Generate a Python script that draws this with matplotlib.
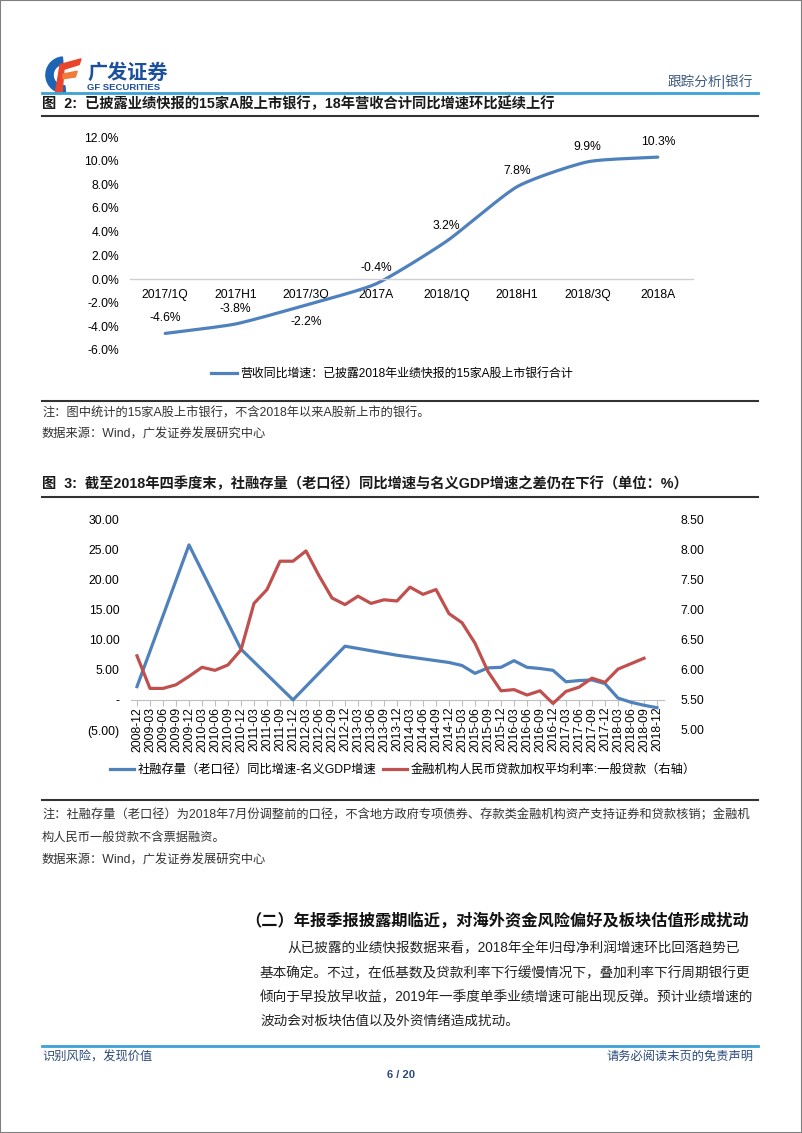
import numpy as np
import pandas as pd
import matplotlib
matplotlib.use('Agg')
import matplotlib.pyplot as plt
from matplotlib.lines import Line2D
from matplotlib.patches import Rectangle, Wedge, Polygon
from matplotlib.ticker import FuncFormatter

# ---------------- data ----------------
c1_categories = ['2017/1Q', '2017H1', '2017/3Q', '2017A', '2018/1Q', '2018H1', '2018/3Q', '2018A']
c1_values = [-4.6, -3.8, -2.2, -0.4, 3.2, 7.8, 9.9, 10.3]
c1_series_name = '营收同比增速：已披露2018年业绩快报的15家A股上市银行合计'

c2_dates = [f"{p.year}-{p.quarter * 3:02d}" for p in pd.period_range('2008Q4', '2018Q4', freq='Q')]
c2_blue_dates = ['2008-12', '2009-12', '2010-12', '2011-12', '2012-12', '2013-12', '2014-12',
                 '2015-03', '2015-06', '2015-09', '2015-12', '2016-03', '2016-06', '2016-09', '2016-12',
                 '2017-03', '2017-06', '2017-09', '2017-12', '2018-03', '2018-06', '2018-09', '2018-12']
c2_blue_values = [2.2, 25.7, 8.4, 0.0, 8.9, 7.4, 6.2,
                  5.7, 4.4, 5.3, 5.4, 6.5, 5.4, 5.2, 4.9,
                  3.0, 3.2, 3.3, 2.7, 0.3, -0.4, -0.9, -1.3]
c2_red_values = [6.23, 5.69, 5.69, 5.75, 5.89, 6.04, 5.99, 6.08, 6.33,
                 7.10, 7.33, 7.80, 7.80, 7.97, 7.56, 7.19, 7.08,
                 7.22, 7.10, 7.16, 7.14, 7.37, 7.25, 7.33, 6.93,
                 6.78, 6.44, 5.97, 5.65, 5.67, 5.58, 5.65, 5.44,
                 5.64, 5.71, 5.86, 5.79, 6.01, 6.10, 6.19]
c2_blue_name = '社融存量（老口径）同比增速-名义GDP增速'
c2_red_name = '金融机构人民币贷款加权平均利率:一般贷款（右轴）'

# ---------------- figure ----------------
W, H = 802, 1133
plt.rcParams['font.family'] = ['Liberation Sans', 'Noto Sans CJK SC']
CHART_FONT = ['Liberation Sans Narrow', 'Liberation Sans', 'Noto Sans CJK SC']
fig = plt.figure(figsize=(W / 100, H / 100), dpi=100)


def rect(x0, y0, x1, y1):
    return [x0 / W, 1 - y1 / H, (x1 - x0) / W, (y1 - y0) / H]


def fx(x):
    return x / W


def fy(y):
    return 1 - y / H


def hline(y, x0=42, x1=758, color='#333333', lw=1.2):
    fig.add_artist(Line2D([fx(x0), fx(x1)], [fy(y), fy(y)], color=color, lw=lw))


def ftext(x, y, s, **kw):
    fig.text(fx(x), fy(y), s, **kw)


# page border
fig.add_artist(Rectangle((0, 0), 1, 1, transform=fig.transFigure, fill=False,
                         edgecolor='#7F7F7F', lw=1.5))

# ---------------- header ----------------
logo = fig.add_axes(rect(44, 56, 82, 94))
logo.set_xlim(-1, 1); logo.set_ylim(-1, 1); logo.axis('off')
logo.add_patch(Wedge((0.05, 0.0), 0.95, 95, 275, width=0.38, color='#1E64B4'))
logo.add_patch(Polygon([[-0.15, 0.55], [0.95, 0.85], [0.85, 0.55], [0.05, 0.3], [-0.05, -0.95],
                        [-0.4, -0.95]], closed=True, color='#E8452C'))
logo.add_patch(Polygon([[0.0, 0.05], [0.75, 0.2], [0.65, -0.1], [0.0, -0.2]], closed=True, color='#F07A3A'))
ftext(87, 72, '广发证券', fontsize=14.5, fontweight='bold', color='#1C4F9C', va='center',
      family=['Noto Sans CJK SC'])
ftext(87, 88, 'GF SECURITIES', fontsize=6.8, fontweight='bold', color='#1C4F9C', va='center')
ftext(753, 82, '跟踪分析|银行', fontsize=9.8, color='#3D5A80', ha='right', va='center')
hline(93, color='#3AA2D6', lw=2.0)

# ---------------- chart 1 ----------------
ftext(42, 104, '图  2:  已披露业绩快报的15家A股上市银行，18年营收合计同比增速环比延续上行',
      fontsize=10.3, fontweight='bold', color='#1A1A1A', va='center')
hline(116, lw=1.5)

ax1 = fig.add_axes(rect(130, 137, 693, 350))
ax1.set_xlim(-0.5, len(c1_categories) - 0.5)
ax1.set_ylim(-6, 12)
for s in ['top', 'right', 'left']:
    ax1.spines[s].set_visible(False)
ax1.spines['bottom'].set_position(('data', 0))
ax1.spines['bottom'].set_color('#D0D0D0')
ax1.spines['bottom'].set_linewidth(1.0)
ax1.set_yticks(np.arange(-6, 13, 2))
ax1.yaxis.set_major_formatter(FuncFormatter(lambda v, p: f'{v:.1f}%'))
ax1.set_xticks(range(len(c1_categories)))
ax1.set_xticklabels(c1_categories)
ax1.tick_params(axis='y', length=0, pad=8, labelsize=8.7)
ax1.tick_params(axis='x', length=0, pad=7, labelsize=8.7)
for lab in ax1.get_xticklabels() + ax1.get_yticklabels():
    lab.set_family(CHART_FONT)
ax1.patch.set_alpha(0)


def smooth(xs, ys, n=20, k=0.6):
    P = np.column_stack([np.asarray(xs, float), np.asarray(ys, float)])
    P = np.vstack([2 * P[0] - P[1], P, 2 * P[-1] - P[-2]])
    out = []
    for i in range(1, len(P) - 2):
        p0, p1, p2, p3 = P[i - 1], P[i], P[i + 1], P[i + 2]
        c1 = p1 + k * (p2 - p0) / 6
        c2 = p2 - k * (p3 - p1) / 6
        t = np.linspace(0, 1, n, endpoint=(i == len(P) - 3))[:, None]
        seg = ((1 - t) ** 3) * p1 + 3 * ((1 - t) ** 2) * t * c1 + 3 * (1 - t) * t ** 2 * c2 + t ** 3 * p2
        out.append(seg)
    out = np.vstack(out)
    return out[:, 0], out[:, 1]


sx, sy = smooth(range(len(c1_values)), c1_values)
ax1.plot(sx, sy, color='#4F81BD', lw=2.3, solid_capstyle='round')
for i, v in enumerate(c1_values):
    off = -12 if i == 2 else 11
    ax1.annotate(f'{v:.1f}%', (i, v), xytext=(0, off), textcoords='offset points',
                 ha='center', va='center', fontsize=8.7, family=CHART_FONT)

h1 = Line2D([], [], color='#4F81BD', lw=2.3)
fig.legend([h1], [c1_series_name], loc='center', bbox_to_anchor=(fx(392), fy(374)),
           frameon=False, fontsize=8.6, handlelength=2.2, handletextpad=0.3)

hline(401, lw=1.5)
NOTE_FS = 8.8
ftext(42, 413, '注：图中统计的15家A股上市银行，不含2018年以来A股新上市的银行。', fontsize=NOTE_FS,
      color='#333333', va='center')
ftext(42, 434, '数据来源：Wind，广发证券发展研究中心', fontsize=NOTE_FS, color='#333333', va='center')

# ---------------- chart 2 ----------------
ftext(42, 484, '图  3:  截至2018年四季度末，社融存量（老口径）同比增速与名义GDP增速之差仍在下行（单位：%）',
      fontsize=10.3, fontweight='bold', color='#1A1A1A', va='center')
hline(497, lw=1.5)

ax2 = fig.add_axes(rect(130.5, 519, 663.5, 730))
ax2.set_xlim(-0.5, len(c2_dates) - 0.5)
ax2.set_ylim(-5, 30)
for s in ['top', 'right', 'left']:
    ax2.spines[s].set_visible(False)
ax2.spines['bottom'].set_position(('data', 0))
ax2.spines['bottom'].set_color('#BFBFBF')
ax2.set_yticks(np.arange(-5, 31, 5))


def lfmt(v, p):
    if abs(v) < 1e-9:
        return '-'
    if v < 0:
        return f'({abs(v):.2f})'
    return f'{v:.2f}'


ax2.yaxis.set_major_formatter(FuncFormatter(lfmt))
ax2.set_xticks(range(len(c2_dates)))
ax2.set_xticklabels(c2_dates, rotation=90)
ax2.tick_params(axis='y', length=0, pad=8, labelsize=8.8)
ax2.tick_params(axis='x', length=4, width=0.8, color='#BFBFBF', pad=1, labelsize=8.8)
for lab in ax2.get_xticklabels() + ax2.get_yticklabels():
    lab.set_family(CHART_FONT)
ax2.patch.set_alpha(0)

bx = [c2_dates.index(d) for d in c2_blue_dates]
ax2.plot(bx, c2_blue_values, color='#4F81BD', lw=2.3, solid_joinstyle='round', zorder=3)

ax3 = ax2.twinx()
ax3.set_ylim(5, 8.5)
for s in ['top', 'right', 'left', 'bottom']:
    ax3.spines[s].set_visible(False)
ax3.set_yticks(np.arange(5, 8.51, 0.5))
ax3.yaxis.set_major_formatter(FuncFormatter(lambda v, p: f'{v:.2f}'))
ax3.tick_params(axis='y', length=0, pad=12, labelsize=8.8)
for lab in ax3.get_yticklabels():
    lab.set_family(CHART_FONT)
ax3.plot(range(len(c2_red_values)), c2_red_values, color='#C0504D', lw=2.3, solid_joinstyle='round')

hb = Line2D([], [], color='#4F81BD', lw=2.3)
hr = Line2D([], [], color='#C0504D', lw=2.3)
fig.legend([hb, hr], [c2_blue_name, c2_red_name], loc='center', ncol=2,
           bbox_to_anchor=(fx(403), fy(770)), frameon=False, fontsize=8.8,
           handlelength=2.0, handletextpad=0.3, columnspacing=0.5)

hline(800, lw=1.5)
ftext(42, 815, '注：社融存量（老口径）为2018年7月份调整前的口径，不含地方政府专项债券、存款类金融机构资产支持证券和贷款核销；金融机',
      fontsize=NOTE_FS, color='#333333', va='center')
ftext(42, 838, '构人民币一般贷款不含票据融资。', fontsize=NOTE_FS, color='#333333', va='center')
ftext(42, 860, '数据来源：Wind，广发证券发展研究中心', fontsize=NOTE_FS, color='#333333', va='center')

# ---------------- body text ----------------
ftext(245, 921, '（二）年报季报披露期临近，对海外资金风险偏好及板块估值形成扰动',
      fontsize=11.7, fontweight='bold', color='#111111', va='center')
body = ['从已披露的业绩快报数据来看，2018年全年归母净利润增速环比回落趋势已',
        '基本确定。不过，在低基数及贷款利率下行缓慢情况下，叠加利率下行周期银行更',
        '倾向于早投放早收益，2019年一季度单季业绩增速可能出现反弹。预计业绩增速的',
        '波动会对板块估值以及外资情绪造成扰动。']
ys = [948, 973, 997, 1021]
for k, (line, y) in enumerate(zip(body, ys)):
    ftext(287 if k == 0 else 260, y, line, fontsize=9.8, color='#222222', va='center')

# ---------------- footer ----------------
hline(1046, color='#3AA2D6', lw=2.0)
ftext(42, 1057, '识别风险，发现价值', fontsize=8.8, color='#2B4A7C', va='center')
ftext(753, 1057, '请务必阅读末页的免责声明', fontsize=8.8, color='#2B4A7C', ha='right', va='center')
ftext(401, 1075, '6 / 20', fontsize=8, fontweight='bold', color='#2B4A7C', ha='center', va='center')

fig.savefig('out.png', dpi=100)
